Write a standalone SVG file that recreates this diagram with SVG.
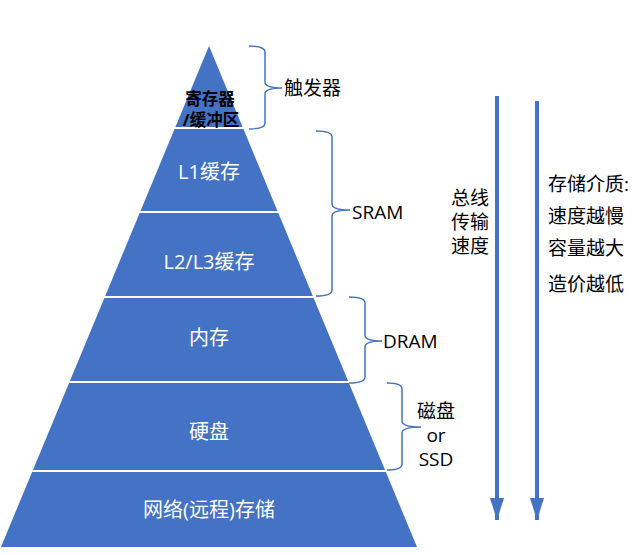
<svg xmlns="http://www.w3.org/2000/svg" width="640" height="555" viewBox="0 0 640 555">
<style>
.lvl{fill:#4472C4}
.sep{stroke:#FFFFFF;stroke-width:2}
.w{fill:#FFFFFF;font-family:"Open Sans","Noto Sans CJK SC",sans-serif;font-size:20px;text-anchor:middle}
.b{fill:#000000;font-family:"Open Sans","Noto Sans CJK SC",sans-serif;font-size:19px}
.k{fill:#000000;font-family:"Open Sans","Noto Sans CJK SC",sans-serif;font-size:16.5px;font-weight:bold;text-anchor:middle}
.brace{fill:none;stroke:#4472C4;stroke-width:1.5}
.arr{stroke:#4472C4;stroke-width:4}
</style>
<defs>
<marker id="ah" markerWidth="14" markerHeight="22" refX="7" refY="22" orientation="auto" markerUnits="userSpaceOnUse" viewBox="0 0 14 22">
<path d="M0,0 L14,0 L7,22 Z" fill="#4472C4"/>
</marker>
</defs>
<rect width="640" height="555" fill="#FFFFFF"/>
<g id="pyramid">
<polygon class="lvl" points="209,46 417,547 1,547"/>
<line class="sep" x1="172" y1="128" x2="246" y2="128"/>
<line class="sep" x1="137" y1="212" x2="281" y2="212"/>
<line class="sep" x1="102" y1="297" x2="316" y2="297"/>
<line class="sep" x1="67" y1="382" x2="351" y2="382"/>
<line class="sep" x1="30" y1="471" x2="388" y2="471"/>
</g>
<g id="register">
<text class="k" x="210" y="105">寄存器</text>
<text class="k" x="211" y="126">/缓冲区</text>
</g>
<g id="l1"><text class="w" x="209" y="179">L1缓存</text></g>
<g id="l2l3"><text class="w" x="209" y="269">L2/L3缓存</text></g>
<g id="mem"><text class="w" x="209" y="345">内存</text></g>
<g id="disk"><text class="w" x="209" y="439">硬盘</text></g>
<g id="net"><text class="w" x="209" y="517">网络(远程)存储</text></g>
<g id="connectors">
<path class="brace" d="M249,46 Q265,46 265,52 L265,82 Q265,88 282,88 Q265,88 265,94 L265,123 Q265,129 249,129"/>
<path class="brace" d="M316,131 Q332,131 332,137 L332,204 Q332,210 350,210 Q332,210 332,216 L332,290 Q332,296 316,296"/>
<path class="brace" d="M349,297 Q365,297 365,303 L365,335 Q365,341 382,341 Q365,341 365,347 L365,377 Q365,383 349,383"/>
<path class="brace" d="M387,383 Q402,383 402,389 L402,421 Q402,427 421,427 Q402,427 402,433 L402,464 Q402,470 387,470"/>
<line class="arr" x1="497" y1="96" x2="497" y2="520" marker-end="url(#ah)"/>
<line class="arr" x1="537" y1="101" x2="537" y2="520" marker-end="url(#ah)"/>
</g>
<g id="labels">
<text class="b" x="284" y="95">触发器</text>
<text class="b" x="352" y="219">SRAM</text>
<text class="b" x="383" y="348">DRAM</text>
<text class="b" x="436" y="418" text-anchor="middle">磁盘</text>
<text class="b" x="436" y="442" text-anchor="middle">or</text>
<text class="b" x="436" y="466" text-anchor="middle">SSD</text>
<text class="b" x="470" y="205" text-anchor="middle">总线</text>
<text class="b" x="470" y="229" text-anchor="middle">传输</text>
<text class="b" x="470" y="253" text-anchor="middle">速度</text>
<text class="b" x="548" y="191">存储介质:</text>
<text class="b" x="548" y="223">速度越慢</text>
<text class="b" x="548" y="255">容量越大</text>
<text class="b" x="548" y="291">造价越低</text>
</g>
</svg>
